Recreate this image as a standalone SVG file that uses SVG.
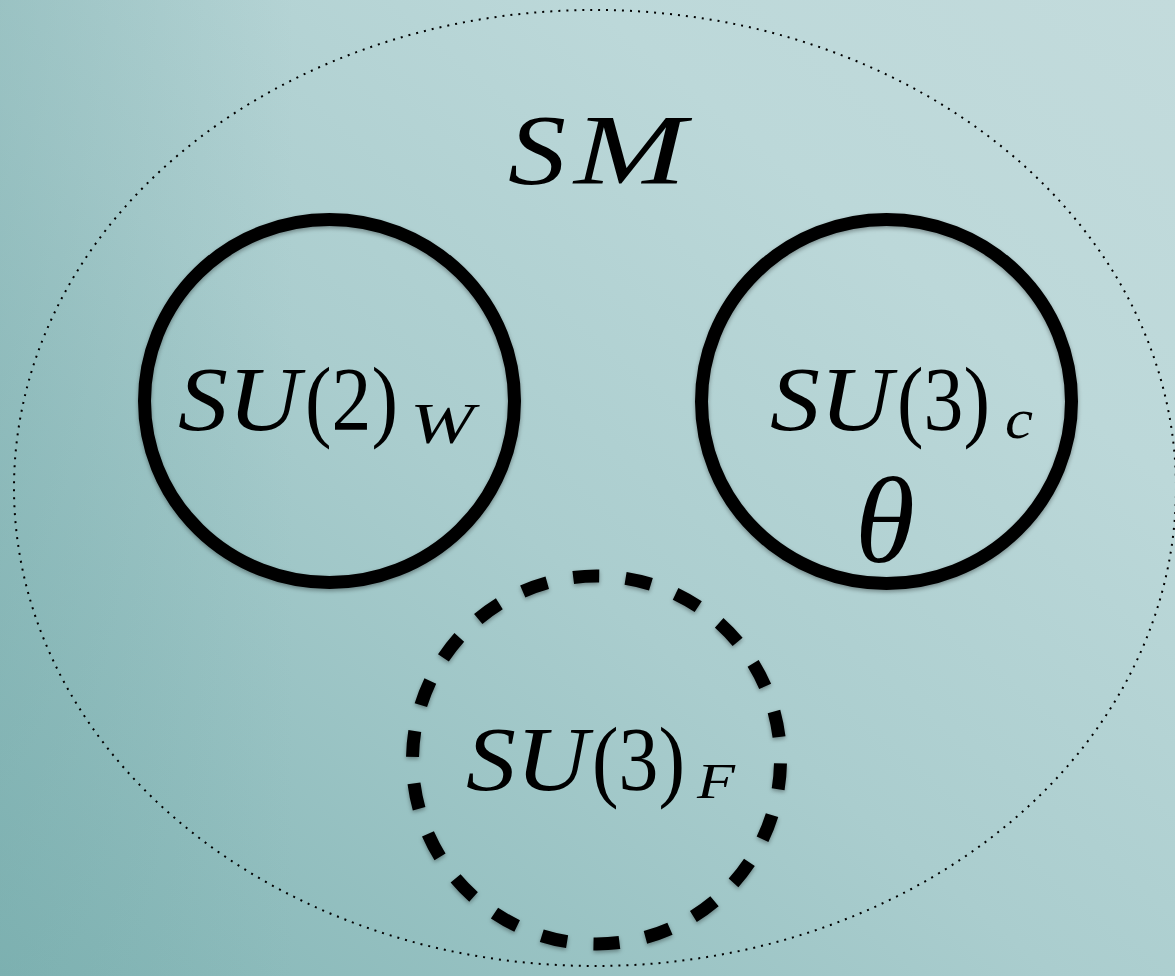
<svg xmlns="http://www.w3.org/2000/svg" width="1175" height="976" viewBox="0 0 1175 976">
<defs>
<linearGradient id="bg" x1="0" y1="1" x2="1" y2="0">
<stop offset="0" stop-color="#82b5b5"/>
<stop offset="0.45" stop-color="#aacdce"/>
<stop offset="0.75" stop-color="#bcd8d9"/>
<stop offset="1" stop-color="#c3dbdc"/>
</linearGradient>
<linearGradient id="side" x1="0" y1="0" x2="1" y2="0">
<stop offset="0" stop-color="#6fa5a5" stop-opacity="0.3"/>
<stop offset="0.25" stop-color="#6fa5a5" stop-opacity="0"/>
</linearGradient>
<filter id="sh" x="-10%" y="-10%" width="120%" height="120%">
<feDropShadow dx="0" dy="2" stdDeviation="2" flood-color="#000" flood-opacity="0.35"/>
</filter>
<style>
.ring{fill:none;stroke:#000;stroke-width:13}
.dash{fill:none;stroke:#000;stroke-width:13;stroke-dasharray:26 26.5}
.outer{fill:none;stroke:#000;stroke-width:2;stroke-dasharray:2 6}
.m{font-family:"Liberation Serif","DejaVu Serif",serif;fill:#000}
.it{font-style:italic}
.big{font-size:90px}
.sub{font-size:58px}
</style>
</defs>
<rect x="0" y="0" width="1175" height="976" fill="url(#bg)"/>
<rect x="0" y="0" width="1175" height="976" fill="url(#side)"/>
<g id="sm">
<ellipse class="outer" cx="595" cy="488" rx="581" ry="478"/>
<text class="m it" font-size="100"><tspan x="508" y="183" textLength="58" lengthAdjust="spacingAndGlyphs">S</tspan><tspan x="574" y="183" textLength="112" lengthAdjust="spacingAndGlyphs">M</tspan></text>
</g>
<g id="su2w" filter="url(#sh)">
<ellipse class="ring" cx="329.5" cy="401" rx="185" ry="181.5"/>
</g>
<g id="su2w-label">
<text class="m big"><tspan class="it" x="178" y="430" textLength="122" lengthAdjust="spacingAndGlyphs">SU</tspan><tspan x="305" y="430" textLength="93" lengthAdjust="spacingAndGlyphs">(2)</tspan><tspan class="it sub" x="410" y="443" textLength="64" lengthAdjust="spacingAndGlyphs">W</tspan></text>
</g>
<g id="su3c" filter="url(#sh)">
<ellipse class="ring" cx="886.5" cy="401.5" rx="185" ry="182"/>
</g>
<g id="su3c-label">
<text class="m big"><tspan class="it" x="770" y="430" textLength="122" lengthAdjust="spacingAndGlyphs">SU</tspan><tspan x="897" y="430" textLength="93" lengthAdjust="spacingAndGlyphs">(3)</tspan><tspan class="it sub" x="1005" y="438" textLength="28" lengthAdjust="spacingAndGlyphs">c</tspan></text>
<text class="m it" x="885" y="562" font-size="122" text-anchor="middle">θ</text>
</g>
<g id="su3f" filter="url(#sh)">
<circle class="dash" cx="596.5" cy="760" r="184" transform="rotate(-48 596.5 760)"/>
</g>
<g id="su3f-label">
<text class="m big"><tspan class="it" x="466" y="790" textLength="122" lengthAdjust="spacingAndGlyphs">SU</tspan><tspan x="592" y="790" textLength="93" lengthAdjust="spacingAndGlyphs">(3)</tspan><tspan class="it" font-size="50" x="697" y="798" textLength="38" lengthAdjust="spacingAndGlyphs">F</tspan></text>
</g>
<g id="connectors"></g>
</svg>
